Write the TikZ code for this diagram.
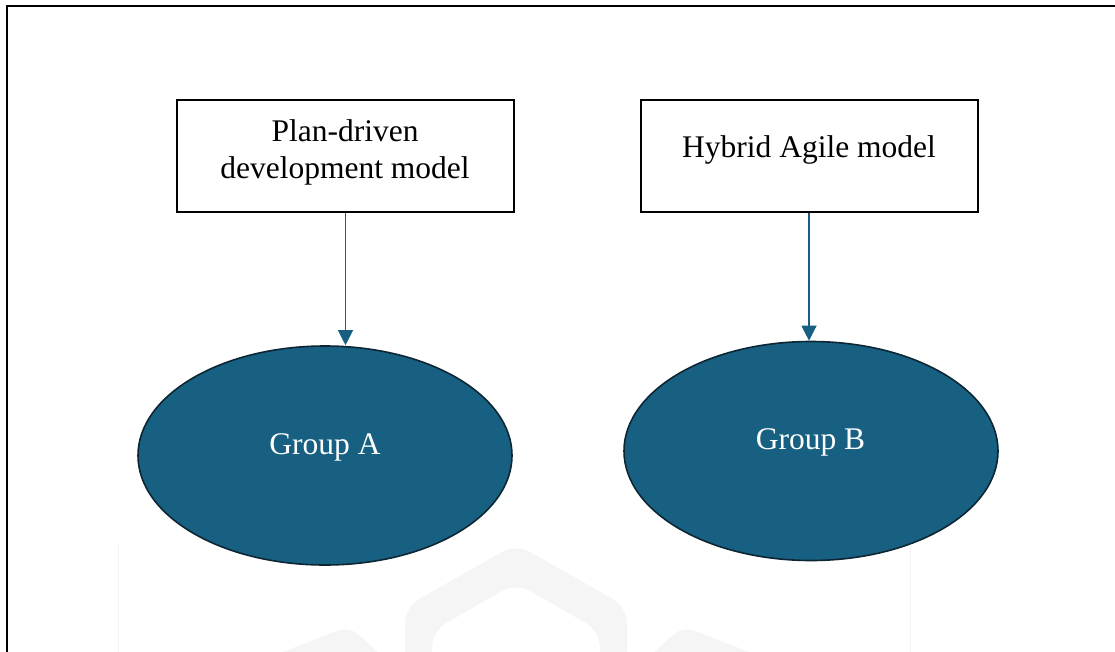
\documentclass[tikz,border=0pt]{standalone}
\usepackage{fontspec}
\setmainfont{Liberation Serif}
\usetikzlibrary{shapes.geometric,arrows.meta}
\definecolor{groupfill}{RGB}{23,96,130}
\definecolor{groupedge}{RGB}{12,38,52}
\definecolor{wmark}{RGB}{245,245,245}
\begin{document}
\begin{tikzpicture}[x=1pt,y=-1pt,
  modelbox/.style={draw=black,line width=2pt,minimum width=337pt,minimum height=112pt,inner sep=0pt},
  labeltext/.style={font=\fontsize{31.5}{37}\selectfont,align=center,inner sep=0pt},
  groupnode/.style={ellipse,draw=groupedge,line width=1.6pt,fill=groupfill,minimum width=374pt,minimum height=219pt,inner sep=0pt},
  grouptext/.style={labeltext,text=white},
  link/.style={draw=groupfill,line width=1.2pt,-{Triangle[width=15pt,length=15pt]}}]
\useasboundingbox (0,0) rectangle (1115,651);
\clip (0,0) rectangle (1115,651);
\fill[white] (0,0) rectangle (1115,651);

% faint background emblem
\fill[wmark,even odd rule,rounded corners=16pt]
  (405,680) -- (405,607) -- (516,544) -- (627,607) -- (627,680) -- cycle
  (432,680) -- (432,631) -- (516,583) -- (600,631) -- (600,680) -- cycle;
\fill[wmark,rounded corners=12pt] (250,665) -- (349,626) -- (392,665) -- cycle;
\fill[wmark,rounded corners=12pt] (782,665) -- (683,626) -- (640,665) -- cycle;
\draw[wmark,line width=0.8pt] (118,543) -- (118,660);
\draw[wmark,line width=0.8pt] (910,543) -- (910,660);

% outer frame
\draw[line width=2pt] (7,6) rectangle (1130,670);

% model boxes
\node[modelbox] (b1) at (345.5,156) {};
\node[labeltext] (t1) at (345,152.6) {Plan-driven\\development model};
\node[modelbox] (b2) at (809,156) {};
\node[labeltext,anchor=base] (t2) at (809,157) {Hybrid Agile model};

% groups
\node[groupnode] (gA) at (325,455.5) {};
\node[grouptext,anchor=base] (tA) at (325,454) {Group A};
\node[groupnode] (gB) at (811,451) {};
\node[grouptext,anchor=base] (tB) at (810.5,449) {Group B};

% links
\draw[link] (b1.south) -- (b1.south |- gA.north);
\draw[link] (b2.south) -- (b2.south |- gB.north);
\end{tikzpicture}
\end{document}
